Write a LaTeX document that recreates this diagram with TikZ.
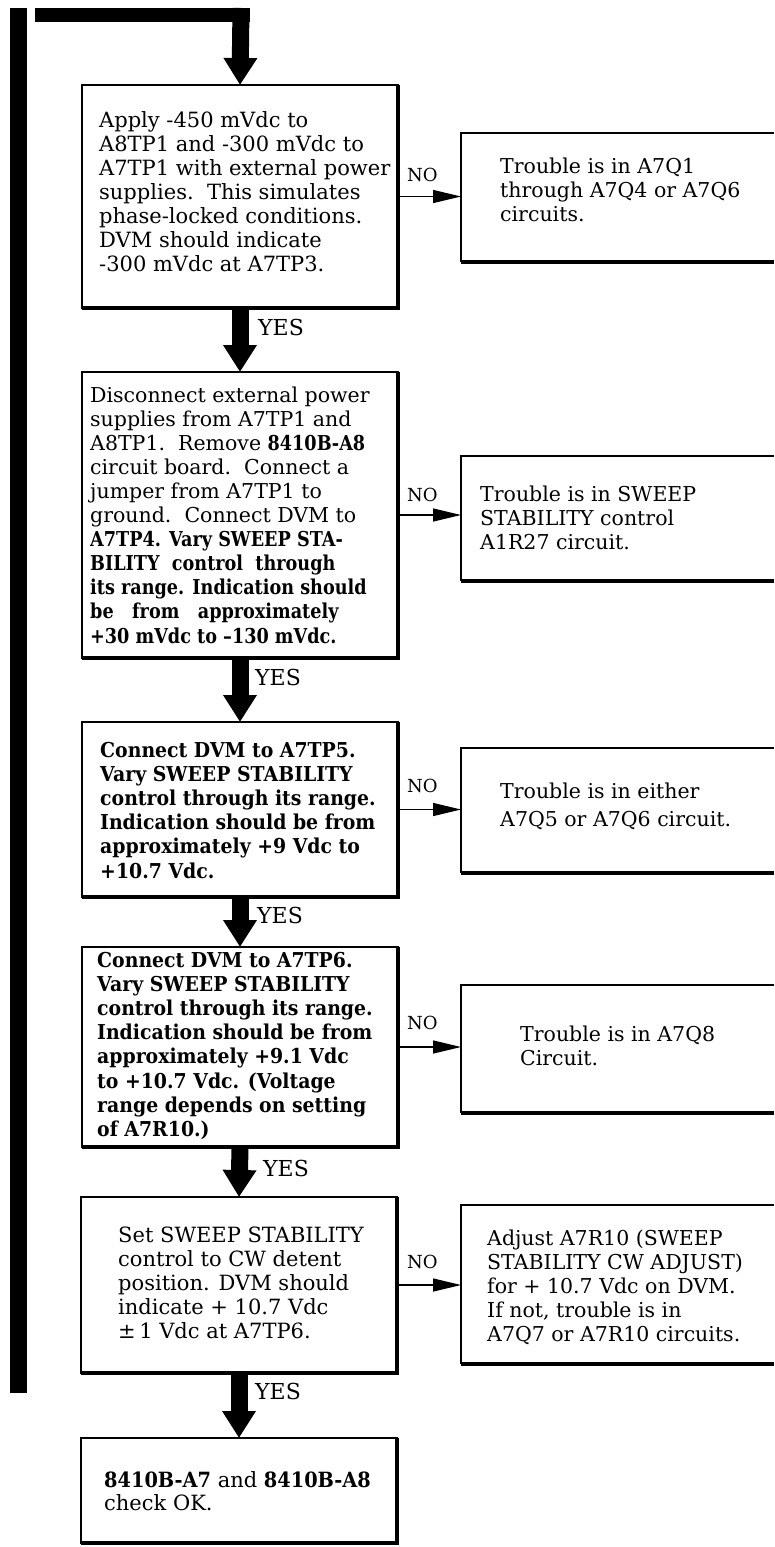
\documentclass[tikz,border=0pt]{standalone}
\usepackage{fontspec}
\setmainfont{DejaVu Serif}
\newfontfamily\heavy[FakeStretch=0.92]{DejaVu Serif}
\newfontfamily\heavyb[FakeStretch=0.86]{DejaVu Serif}
\usetikzlibrary{arrows.meta}
\newcommand\txtlines[1]{\begin{tabular}[t]{@{}l@{}}#1\end{tabular}}
\tikzset{
  box/.style={draw, line width=1.3pt, anchor=north west, outer sep=0pt, inner sep=0pt},
  nobox/.style={anchor=north west, outer sep=0pt, inner sep=0pt},
  thin edge/.style={line width=1.3pt},
  thick edge/.style={line width=3.5pt, line join=miter},
  txt/.style={anchor=base west, inner sep=0pt, font=\fontsize{20.5}{24}\selectfont},
  yeslab/.style={anchor=west, inner sep=0pt, font=\fontsize{22}{24}\selectfont},
  nolab/.style={anchor=west, inner sep=0pt, font=\fontsize{18}{22}\selectfont},
  yesarrow/.style={line width=17pt, -{Triangle[width=32pt,length=27pt]}},
  noarrow/.style={line width=1.3pt, -{Triangle[width=13pt,length=28pt]}},
  loopline/.style={line width=17pt},
}
\begin{document}
\begin{tikzpicture}[x=1pt,y=-1pt]
\useasboundingbox (0,0) rectangle (774,1547);
\fill[white] (0,0) rectangle (774,1547);

% main boxes
\node[box, minimum width=316pt, minimum height=223pt] (b1) at (82,85) {};
\node[box, minimum width=316pt, minimum height=286pt] (b2) at (82,372) {};
\node[box, minimum width=316pt, minimum height=175pt] (b3) at (82,722) {};
\node[box, minimum width=316pt, minimum height=200pt] (b4) at (82,947) {};
\node[box, minimum width=316pt, minimum height=176pt] (b5) at (81,1197) {};
\node[box, minimum width=316pt, minimum height=105pt] (b6) at (81,1438) {};
\foreach \b in {b1,b2,b3,b4,b5,b6}
  \draw[thick edge] (\b.north east) -- (\b.south east) -- (\b.south west);

% NO boxes (open to the right edge)
\node[nobox, minimum width=313pt, minimum height=129pt] (n1) at (461,133) {};
\node[nobox, minimum width=313pt, minimum height=125pt] (n2) at (461,456) {};
\node[nobox, minimum width=313pt, minimum height=125pt] (n3) at (461,748) {};
\node[nobox, minimum width=313pt, minimum height=128pt] (n4) at (461,985) {};
\node[nobox, minimum width=313pt, minimum height=159pt] (n5) at (461,1205) {};
\foreach \n in {n1,n2,n3,n4,n5}{
  \draw[thin edge] (\n.north east) -- (\n.north west) -- (\n.south west);
  \draw[thick edge] (\n.south west) -- (\n.south east);
}

% texts
\node[txt, font=\fontsize{21}{24}\selectfont] (t1) at (99,127) {\txtlines{Apply -450 mVdc to\\A8TP1 and -300 mVdc to\\A7TP1 with external power\\supplies.\ \ This simulates\\phase-locked conditions.\\DVM should indicate\\-300 mVdc at A7TP3.}};
\node[txt] (tn1) at (500,173) {\txtlines{Trouble is in A7Q1\\through A7Q4 or A7Q6\\circuits.}};

\node[txt, font=\fontsize{20.5}{24.1}\selectfont] (t2) at (90,402) {\txtlines{Disconnect external power\\supplies from A7TP1 and\\A8TP1.\ \ Remove {\heavyb\bfseries 8410B-A8}\\circuit board.\ \ Connect a\\jumper from A7TP1 to\\ground.\ \ Connect DVM to\\{\heavyb\bfseries A7TP4. Vary SWEEP STA-}\\{\heavyb\bfseries BILITY\ \ control\ \ through}\\{\heavyb\bfseries its range. Indication should}\\{\heavyb\bfseries be\ \ \ from\ \ \ approximately}\\{\heavyb\bfseries +30 mVdc to \textendash130 mVdc.}}};
\node[txt] (tn2) at (480,501) {\txtlines{Trouble is in SWEEP\\STABILITY control\\A1R27 circuit.}};

\node[txt, font=\fontsize{20.5}{24.2}\heavy\bfseries] (t3) at (100,757) {\txtlines{Connect DVM to A7TP5.\\Vary SWEEP STABILITY\\control through its range.\\Indication should be from\\approximately +9 Vdc to\\+10.7 Vdc.}};
\node[txt, font=\fontsize{20.5}{28}\selectfont] (tn3) at (500,798) {\txtlines{Trouble is in either\\A7Q5 or A7Q6 circuit.}};

\node[txt, font=\fontsize{20.5}{24.2}\heavy\bfseries] (t4) at (97,967) {\txtlines{Connect DVM to A7TP6.\\Vary SWEEP STABILITY\\control through its range.\\Indication should be from\\approximately +9.1 Vdc\\to +10.7 Vdc. (Voltage\\range depends on setting\\of A7R10.)}};
\node[txt] (tn4) at (520,1041) {\txtlines{Trouble is in A7Q8\\Circuit.}};

\node[txt, font=\fontsize{21}{24}\selectfont] (t5) at (118,1242) {\txtlines{Set SWEEP STABILITY\\control to CW detent\\position. DVM should\\indicate + 10.7 Vdc\\{\textpm}\,1 Vdc at A7TP6.}};
\node[txt] (tn5) at (487,1245) {\txtlines{Adjust A7R10 (SWEEP\\STABILITY CW ADJUST)\\for + 10.7 Vdc on DVM.\\If not, trouble is in\\A7Q7 or A7R10 circuits.}};

\node[txt, font=\fontsize{21}{23}\selectfont] (t6) at (104,1487) {\txtlines{{\heavy\bfseries 8410B-A7} and {\heavy\bfseries 8410B-A8}\\check OK.}};

% loop-back connector
\coordinate (loopbot) at (18.5,1393);
\coordinate (loopcorner) at (18.5,8);
\coordinate (looptop) at (241,8);
\draw[loopline] (loopbot) -- (loopcorner);
\fill (35,8) rectangle (249.5,22);
\draw[yesarrow] (looptop) -- (b1.north);

% YES arrows
\draw[yesarrow] (b1.south) -- (b2.north);
\draw[yesarrow] (b2.south) -- (b3.north);
\draw[yesarrow] (b3.south) -- (b4.north);
\draw[yesarrow] (b4.south) -- (b5.north);
\draw[yesarrow] (b5.south) -- (b6.north);
\node[yeslab] (y1) at (258,327) {YES};
\node[yeslab] (y2) at (255,677) {YES};
\node[yeslab] (y3) at (257,915) {YES};
\node[yeslab] (y4) at (263,1168) {YES};
\node[yeslab] (y5) at (255,1391) {YES};

% NO arrows
\draw[noarrow] (b1.east) -- (b1.east -| n1.west);
\draw[noarrow] (b2.east) -- (b2.east -| n2.west);
\draw[noarrow] (b3.east) -- (b3.east -| n3.west);
\draw[noarrow] (b4.east) -- (b4.east -| n4.west);
\draw[noarrow] (b5.east) -- (b5.east -| n5.west);
\node[nolab] (o1) at (407,175) {NO};
\node[nolab] (o2) at (407,495) {NO};
\node[nolab] (o3) at (407,786) {NO};
\node[nolab] (o4) at (407,1023) {NO};
\node[nolab] (o5) at (407,1262) {NO};
\end{tikzpicture}
\end{document}
